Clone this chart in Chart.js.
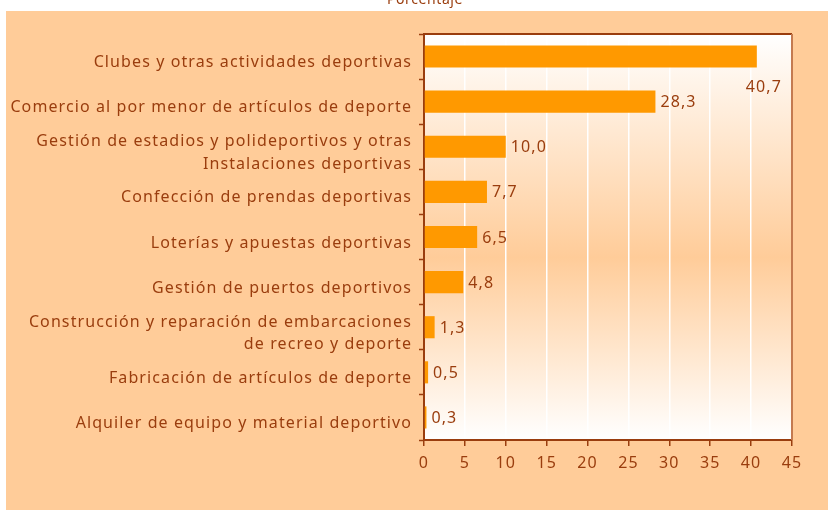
<!DOCTYPE html>
<html>
<head>
<meta charset="utf-8">
<script src="https://cdn.jsdelivr.net/npm/chart.js@4"></script>
<style>
  body { margin: 0; background: #ffffff; }
  #chartWrap { width: 828px; height: 513px; position: relative; }
</style>
</head>
<body>
<div id="chartWrap"><canvas id="chartSport"></canvas></div>
<script>
  // ************************************
  // DATA
  // ************************************
  const categorias = [
    'Clubes y otras actividades deportivas',
    'Comercio al por menor de artículos de deporte',
    ['Gestión de estadios y polideportivos y otras', 'Instalaciones deportivas'],
    'Confección de prendas deportivas',
    'Loterías y apuestas deportivas',
    'Gestión de puertos deportivos',
    ['Construcción y reparación de embarcaciones', 'de recreo y deporte'],
    'Fabricación de artículos de deporte',
    'Alquiler de equipo y material deportivo'
  ];
  const porcentajes = [40.7, 28.3, 10.0, 7.7, 6.5, 4.8, 1.3, 0.5, 0.3];
  const xTicks = [0, 5, 10, 15, 20, 25, 30, 35, 40, 45];
  const tituloEje = 'Porcentaje';

  const BROWN = '#9A3D0E';
  const FONT = "'Noto Sans', sans-serif";
  const SPACING = '1.1px';
  var debug = 0;

  // ************************************
  // PLUGIN : background, borders, labels
  // ************************************
  const decoPlugin = {
    id: 'deco',
    beforeUpdate(chart) {
      chart.ctx.letterSpacing = SPACING;
    },
    beforeDraw(chart) {
      const ctx = chart.ctx;
      const a = chart.chartArea;
      ctx.save();
      ctx.fillStyle = '#FFCC99';
      ctx.fillRect(6, 11, chart.width - 6, 499);
      var grad = ctx.createLinearGradient(0, a.top, 0, a.bottom);
      grad.addColorStop(0, '#FFFFFF');
      grad.addColorStop(0.55, '#FFCC99');
      grad.addColorStop(1, '#FFFFFF');
      ctx.fillStyle = grad;
      ctx.fillRect(a.left, a.top, a.right - a.left, a.bottom - a.top);
      // axis title cut at top of the picture
      ctx.letterSpacing = '0.6px';
      ctx.fillStyle = BROWN;
      ctx.font = '14px ' + FONT;
      ctx.textAlign = 'center';
      ctx.textBaseline = 'alphabetic';
      ctx.fillText(tituloEje, 425, 4);
      ctx.restore();
      ctx.letterSpacing = SPACING;
    },
    afterDraw(chart) {
      const ctx = chart.ctx;
      const a = chart.chartArea;
      const meta = chart.getDatasetMeta(0);
      ctx.save();
      ctx.lineWidth = 2;
      ctx.strokeStyle = BROWN;
      ctx.beginPath();
      ctx.moveTo(a.left, a.top);
      ctx.lineTo(a.right, a.top);
      ctx.stroke();
      ctx.strokeStyle = '#C47A50';
      ctx.beginPath();
      ctx.moveTo(a.right, a.top);
      ctx.lineTo(a.right, a.bottom);
      ctx.stroke();

      ctx.font = '16px ' + FONT;
      ctx.fillStyle = BROWN;
      ctx.textBaseline = 'middle';
      ctx.textAlign = 'left';
      meta.data.forEach(function (bar, i) {
        var txt = porcentajes[i].toFixed(1).replace('.', ',');
        var w = ctx.measureText(txt).width;
        if (bar.x + 6 + w > a.right - 4) {
          // no room at the end of the bar: put it underneath
          ctx.fillText(txt, bar.x - 11, bar.y + 31);
        } else {
          ctx.fillText(txt, bar.x + 5, bar.y + 1);
        }
      });
      ctx.restore();
    }
  };

  // ************************************
  // CHART
  // ************************************
  new Chart(document.getElementById('chartSport'), {
    type: 'bar',
    data: {
      labels: categorias,
      datasets: [{
        label: tituloEje,
        data: porcentajes,
        backgroundColor: '#FF9900',
        categoryPercentage: 1,
        barPercentage: 0.49
      }]
    },
    options: {
      indexAxis: 'y',
      responsive: true,
      maintainAspectRatio: false,
      animation: false,
      layout: { padding: { top: 34, right: 36, left: 0, bottom: 0 } },
      plugins: {
        legend: { display: false },
        tooltip: { enabled: false }
      },
      scales: {
        x: {
          min: 0,
          max: 45,
          afterFit: function (scale) { scale.height = 73; },
          afterBuildTicks: function (scale) {
            scale.ticks = xTicks.map(function (v) { return { value: v }; });
          },
          border: { color: BROWN, width: 2 },
          grid: {
            color: '#FFFFFF',
            lineWidth: 1.5,
            tickColor: BROWN,
            tickLength: 6,
            tickWidth: 1.5
          },
          ticks: {
            color: BROWN,
            font: { family: FONT, size: 16 },
            padding: 8,
            maxRotation: 0
          }
        },
        y: {
          afterFit: function (scale) { scale.width = 424; },
          border: { color: BROWN, width: 2 },
          grid: {
            offset: true,
            drawOnChartArea: false,
            tickColor: BROWN,
            tickLength: 5,
            tickWidth: 1.5
          },
          ticks: {
            color: BROWN,
            font: { family: FONT, size: 16, lineHeight: 1.4 },
            padding: 7,
            labelOffset: 6,
            autoSkip: false
          }
        }
      }
    },
    plugins: [decoPlugin]
  });
  if (debug == 1) console.log('porcentajes', porcentajes);
</script>
</body>
</html>
